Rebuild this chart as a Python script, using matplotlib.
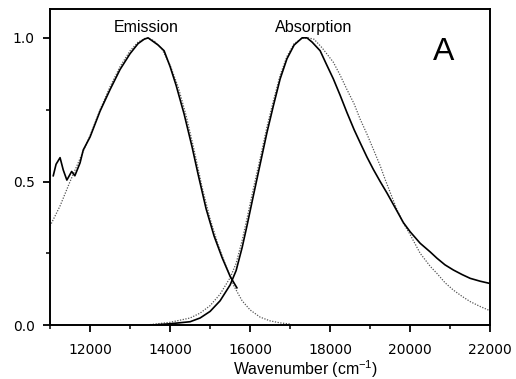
import matplotlib
matplotlib.use('Agg')
import matplotlib.pyplot as plt
from matplotlib.ticker import MultipleLocator

plt.rcParams['font.family'] = ['Liberation Sans', 'DejaVu Sans']
plt.rcParams['mathtext.fontset'] = 'custom'
plt.rcParams['mathtext.rm'] = 'Liberation Sans'
plt.rcParams['mathtext.it'] = 'Liberation Sans:italic'

# emission, measured (solid)
em_x = [11080, 11150, 11250, 11330, 11420, 11540, 11620, 11750, 11830, 12000,
        12250, 12500, 12750, 13000, 13200, 13350, 13450, 13550, 13700, 13850,
        14000, 14150, 14350, 14550, 14700, 14800, 14900, 15100, 15300, 15500, 15670]
em_y = [0.52, 0.56, 0.583, 0.54, 0.505, 0.535, 0.52, 0.565, 0.61, 0.655,
        0.745, 0.82, 0.89, 0.945, 0.98, 0.995, 1.0, 0.99, 0.975, 0.955,
        0.90, 0.835, 0.735, 0.62, 0.525, 0.465, 0.405, 0.31, 0.235, 0.17, 0.13]

# emission, fit (dotted)
emf_x = [11000, 11250, 11500, 11750, 12000, 12250, 12500, 12750, 13000, 13200,
         13400, 13600, 13800, 14000, 14200, 14400, 14600, 14800, 15000, 15200,
         15400, 15600, 15800, 16000, 16250, 16500, 16750, 17000]
emf_y = [0.345, 0.415, 0.50, 0.58, 0.66, 0.75, 0.83, 0.90, 0.955, 0.985,
         1.0, 0.99, 0.96, 0.905, 0.83, 0.73, 0.61, 0.48, 0.37, 0.28,
         0.205, 0.135, 0.085, 0.053, 0.028, 0.015, 0.008, 0.004]

# absorption, measured (solid)
ab_x = [13500, 14000, 14500, 14750, 15000, 15250, 15500, 15650, 15800, 15920,
        16080, 16250, 16420, 16580, 16750, 16920, 17100, 17300, 17420, 17550,
        17750, 17900, 18080, 18250, 18420, 18600, 18750, 18920, 19080, 19250,
        19420, 19600, 19830, 20000, 20250, 20500, 20670, 20870, 21080, 21300,
        21500, 21750, 22000]
ab_y = [0.0, 0.005, 0.012, 0.025, 0.048, 0.085, 0.14, 0.19, 0.27, 0.345,
        0.45, 0.56, 0.67, 0.763, 0.857, 0.927, 0.975, 1.0, 1.0, 0.985,
        0.955, 0.91, 0.857, 0.80, 0.74, 0.68, 0.635, 0.585, 0.542, 0.50,
        0.46, 0.415, 0.357, 0.325, 0.285, 0.255, 0.233, 0.21, 0.192, 0.176,
        0.163, 0.153, 0.145]

# absorption, fit (dotted)
abf_x = [13500, 14000, 14500, 14750, 15000, 15250, 15500, 15650, 15800, 15920,
         16080, 16250, 16420, 16580, 16750, 16920, 17100, 17300, 17450, 17600,
         17800, 18080, 18250, 18420, 18600, 18750, 18920, 19080, 19250, 19375,
         19520, 19670, 19830, 20000, 20250, 20500, 20670, 20870, 21080, 21300,
         21500, 21750, 22000]
abf_y = [0.002, 0.01, 0.025, 0.042, 0.068, 0.108, 0.165, 0.215, 0.295, 0.37,
         0.475, 0.58, 0.69, 0.78, 0.87, 0.935, 0.98, 0.998, 1.0, 0.995,
         0.965, 0.915, 0.87, 0.82, 0.77, 0.717, 0.665, 0.612, 0.555, 0.507,
         0.455, 0.402, 0.355, 0.315, 0.25, 0.205, 0.18, 0.148, 0.122, 0.10,
         0.082, 0.065, 0.05]

fig = plt.figure(figsize=(5.16, 3.79), dpi=100)
ax = fig.add_axes([0.097, 0.142, 0.853, 0.834])

dot = (0, (1, 1.2))
ax.plot(emf_x, emf_y, color='#555555', lw=0.9, linestyle=dot)
ax.plot(abf_x, abf_y, color='#555555', lw=0.9, linestyle=dot)
ax.plot(em_x, em_y, color='black', lw=1.2)
ax.plot(ab_x, ab_y, color='black', lw=1.2)

ax.set_xlim(11000, 22000)
ax.set_ylim(0, 1.1)
ax.xaxis.set_minor_locator(MultipleLocator(1000))
ax.yaxis.set_minor_locator(MultipleLocator(0.25))
ax.set_xticks([12000, 14000, 16000, 18000, 20000, 22000])
ax.set_yticks([0.0, 0.5, 1.0])
ax.set_yticklabels(['0.0', '0.5', '1.0'])
ax.tick_params(which='major', direction='out', length=5, width=1.3, labelsize=10)
ax.tick_params(axis='x', which='major', pad=8)
ax.tick_params(axis='y', which='major', pad=6)
ax.tick_params(which='minor', direction='out', length=3, width=1.1)
for lab in ax.get_xticklabels() + ax.get_yticklabels():
    lab.set_family('DejaVu Sans')
for s in ax.spines.values():
    s.set_linewidth(1.4)

ax.set_xlabel('Wavenumber (cm$^{-1}$)', fontsize=11.4)
ax.xaxis.set_label_coords(0.58, -0.105)

ax.text(13400, 1.035, 'Emission', ha='center', va='center', fontsize=11.5)
ax.text(17600, 1.035, 'Absorption', ha='center', va='center', fontsize=11.6)
ax.text(20830, 0.95, 'A', ha='center', va='center', fontsize=23)

fig.savefig('out.png', dpi=100)
